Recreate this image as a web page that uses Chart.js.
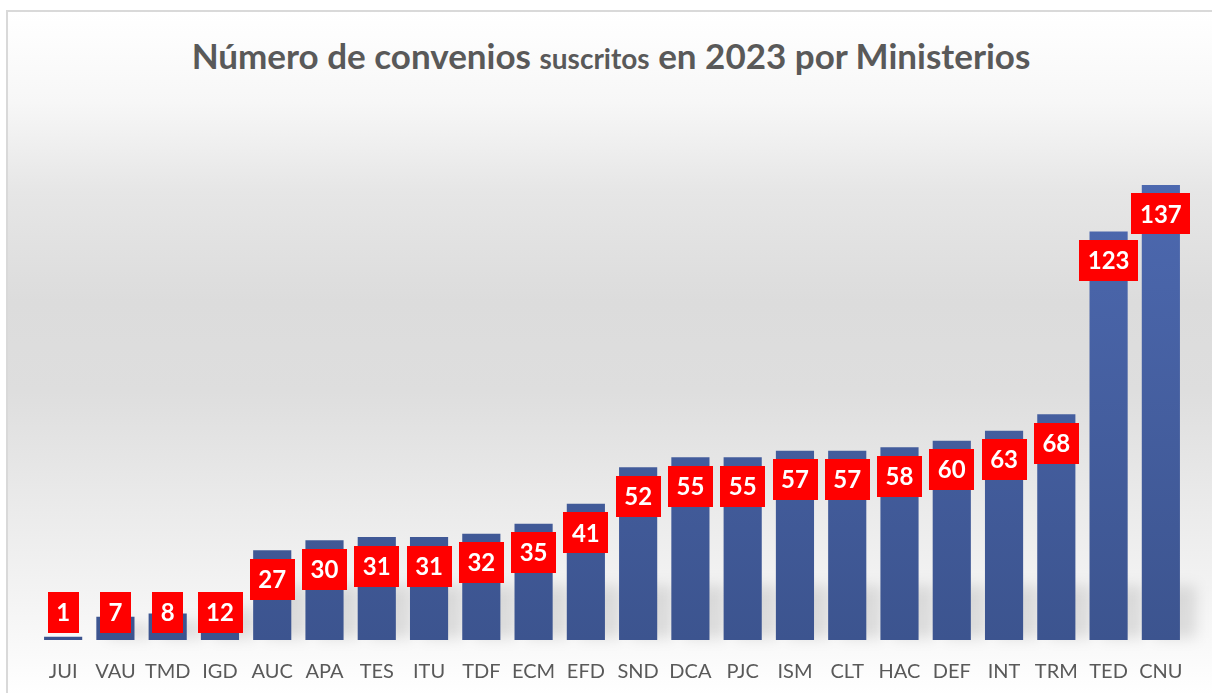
<!DOCTYPE html>
<html>
<head>
<meta charset="utf-8">
<script src="https://cdn.jsdelivr.net/npm/chart.js@4.4.0/dist/chart.umd.min.js"></script>
<style>
    html, body { margin: 0; padding: 0; background: #fff; }
    #wrap { position: relative; width: 1212px; height: 693px; overflow: hidden; }
    #bg {
        position: absolute; left: 6px; top: 10px; width: 1220px; height: 700px;
        border-left: 2px solid #d9d9d9; border-top: 2px solid #d9d9d9;
        background: linear-gradient(to bottom, #ffffff 0px, #f7f7f7 90px, #e6e6e6 180px, #dcdcdc 290px, #dedede 380px, #e9e9e9 480px, #f3f3f3 580px, #fbfbfb 650px, #ffffff 683px);
    }
    #title {
        position: absolute; left: 0; top: 33px; width: 1222px; text-align: center;
        font-family: Lato, "Noto Sans", sans-serif; font-weight: bold; font-size: 35px; line-height: 44px; color: #595959;
        white-space: nowrap;
    }
    #title .small { font-size: 28px; }
    canvas { position: absolute; left: 0; top: 0; }
</style>
</head>
<body>
<div id="wrap">
    <div id="bg"></div>
    <div id="title">Número de convenios <span class="small">suscritos</span> en 2023 por Ministerios</div>
    <canvas id="chart" width="1212" height="693"></canvas>
</div>
<script>
    // Data
    const ministerios = ['JUI', 'VAU', 'TMD', 'IGD', 'AUC', 'APA', 'TES', 'ITU', 'TDF', 'ECM', 'EFD',
        'SND', 'DCA', 'PJC', 'ISM', 'CLT', 'HAC', 'DEF', 'INT', 'TRM', 'TED', 'CNU'];
    const convenios = [1, 7, 8, 12, 27, 30, 31, 31, 32, 35, 41, 52, 55, 55, 57, 57, 58, 60, 63, 68, 123, 137];

    // Soft grey shadow behind the base of each bar
    const shadowPlugin = {
        id: 'barShadow',
        beforeDatasetsDraw(chart) {
            const ctx = chart.ctx;
            const bottom = chart.chartArea.bottom;
            ctx.save();
            ctx.filter = 'blur(7px)';
            ctx.fillStyle = 'rgba(0,0,0,0.11)';
            chart.getDatasetMeta(0).data.forEach(bar => {
                const h = Math.min(bottom - bar.y, 62);
                if (h < 6) return;
                ctx.fillRect(bar.x - bar.width / 2 + 12, bottom - h + 8, bar.width + 4, h - 10);
            });
            ctx.restore();
        }
    };

    // Red boxes with the value near the top of each bar
    const labelPlugin = {
        id: 'redLabels',
        afterDatasetsDraw(chart) {
            const ctx = chart.ctx;
            const bottom = chart.chartArea.bottom;
            ctx.save();
            ctx.font = 'bold 24px Lato, "Noto Sans", sans-serif';
            ctx.textAlign = 'center';
            ctx.textBaseline = 'middle';
            chart.getDatasetMeta(0).data.forEach((bar, i) => {
                const txt = String(convenios[i]);
                const w = ctx.measureText(txt).width + 17;
                const h = 41;
                const cy = Math.min(bar.y + 29, bottom - 28);
                ctx.fillStyle = '#ff0000';
                ctx.fillRect(Math.round(bar.x - w / 2), Math.round(cy - h / 2), Math.round(w), h);
                ctx.fillStyle = '#ffffff';
                ctx.fillText(txt, bar.x, cy + 1);
            });
            ctx.restore();
        }
    };

    const ctx = document.getElementById('chart').getContext('2d');
    const grad = ctx.createLinearGradient(0, 175, 0, 640);
    grad.addColorStop(0, '#4d69b0');
    grad.addColorStop(1, '#3c548f');

    new Chart(ctx, {
        type: 'bar',
        data: {
            labels: ministerios,
            datasets: [{
                data: convenios,
                backgroundColor: grad,
                borderWidth: 0,
                barPercentage: 0.73,
                categoryPercentage: 1
            }]
        },
        options: {
            responsive: false,
            animation: false,
            layout: { padding: { left: 37, right: 25, top: 175, bottom: 8 } },
            plugins: {
                legend: { display: false },
                tooltip: { enabled: false }
            },
            scales: {
                x: {
                    grid: { display: false, drawTicks: false },
                    border: { display: false },
                    ticks: {
                        color: '#595959',
                        font: { family: 'Lato, "Noto Sans", sans-serif', size: 20 },
                        padding: 20,
                        maxRotation: 0,
                        autoSkip: false
                    },
                    afterFit(scale) { scale.height = 45; }
                },
                y: {
                    display: false,
                    min: 0,
                    max: 140
                }
            }
        },
        plugins: [shadowPlugin, labelPlugin]
    });
</script>
</body>
</html>
